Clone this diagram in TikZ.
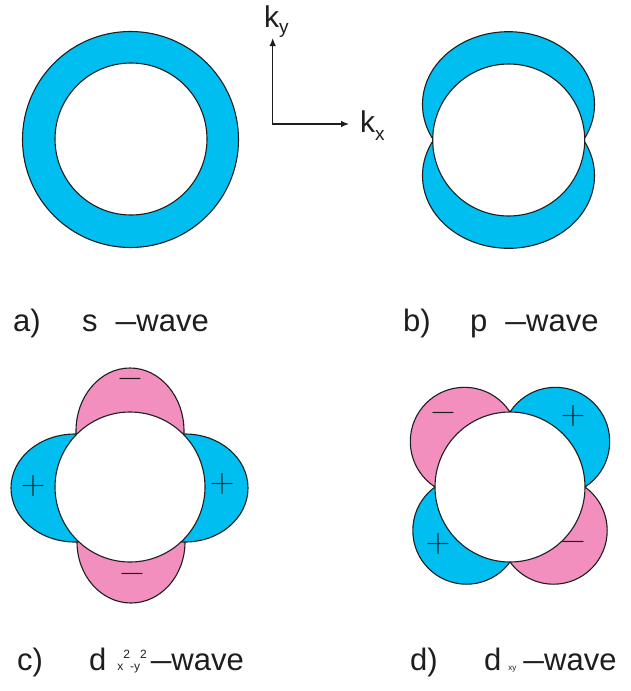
\documentclass[tikz,border=0pt]{standalone}
\usepackage{fontspec}
\newfontfamily\arial{Liberation Sans}
\usetikzlibrary{arrows.meta}
\definecolor{lobeblue}{RGB}{0,191,240}
\definecolor{lobepink}{RGB}{242,143,190}
\definecolor{ink}{RGB}{30,30,30}
\newcommand{\wdash}{\scalebox{1.2}[1]{–}}
\begin{document}
\begin{tikzpicture}[x=1pt,y=-1pt,
  outline/.style={draw=ink,line width=1.1pt},
  bluelobe/.style={outline,fill=lobeblue},
  pinklobe/.style={outline,fill=lobepink},
  core/.style={outline,fill=white},
  lbl/.style={anchor=base west,inner sep=0pt,text=ink,font=\arial\fontsize{31}{36}\selectfont},
  klbl/.style={anchor=base west,inner sep=0pt,text=ink,font=\arial\fontsize{30}{30}\selectfont},
  sign/.style={inner sep=0pt,text=ink,font=\fontsize{34}{34}\selectfont,text height=0.583em,text depth=0.083em},
  axis/.style={draw=ink,line width=1.2pt,{Latex[length=8pt,width=6.5pt]}-{Latex[length=8pt,width=6.5pt]}}]
\useasboundingbox[fill=white] (0,0) rectangle (630,691);

% a) s-wave
\path[bluelobe] (130.5,139.5) circle[radius=108];
\path[core] (131,139) circle[radius=76];

% axes
\coordinate (O) at (272.7,124);
\coordinate (ytip) at (272.7,38);
\coordinate (xtip) at (349,124);
\draw[axis] (ytip) -- (O) -- (xtip);
\node[klbl] (ky) at (264,27) {k\raisebox{-6pt}{\fontsize{19}{19}\selectfont y}};
\node[klbl] (kx) at (360,132) {k\raisebox{-8pt}{\fontsize{19}{19}\selectfont x}};

% b) p-wave
\path[bluelobe] (508.5,104.4) ellipse[x radius=86,y radius=72.7];
\path[bluelobe] (508.5,175.6) ellipse[x radius=86,y radius=72.7];
\path[core] (508.7,140) circle[radius=76];

% c) d_{x^2-y^2}
\path[pinklobe] (130,431) ellipse[x radius=54,y radius=63];
\path[pinklobe] (131,542) ellipse[x radius=54,y radius=61];
\path[bluelobe] (75,488) ellipse[x radius=64,y radius=54];
\path[bluelobe] (185,488) ellipse[x radius=63,y radius=54];
\path[core] (130,487) circle[radius=75];
\node[sign] (cl) at (33,492) {+};
\node[sign] (cr) at (222,490) {+};
\node[sign] (ct) at (130,385) {−};
\node[sign] (cb) at (132,580) {−};

% d) d_xy
\path[pinklobe] (464.5,441.5) circle[radius=54.2];
\path[bluelobe] (555.5,441.5) circle[radius=54.2];
\path[bluelobe] (466.5,530.5) circle[radius=53.7];
\path[pinklobe] (553.5,530.5) circle[radius=53.7];
\path[core] (510,487) circle[radius=75];
\node[sign] (dtl) at (443,419) {−};
\node[sign] (dtr) at (573,422) {+};
\node[sign] (dbl) at (438,550) {+};
\node[sign] (dbr) at (573,548) {−};

% labels
\node[lbl] (alab) at (13,331) {a)};
\node[lbl] (awave) at (82,331) {s\hspace{18pt}\wdash wave};
\node[lbl] (blab) at (403,331) {b)};
\node[lbl] (bwave) at (470,331) {p\hspace{18pt}\wdash wave};
\node[lbl] (clab) at (17,670) {c)};
\node[lbl] (cwave) at (89,670) {d\hspace{11pt}{\fontsize{12}{12}\selectfont x\raisebox{12pt}{2}-y\raisebox{12pt}{2}}\hspace{4pt}\wdash wave};
\node[lbl] (dlab) at (410,670) {d)};
\node[lbl] (dwave) at (484,670) {d\hspace{7pt}{\fontsize{8}{8}\selectfont xy}\hspace{7pt}\wdash wave};
\end{tikzpicture}
\end{document}
